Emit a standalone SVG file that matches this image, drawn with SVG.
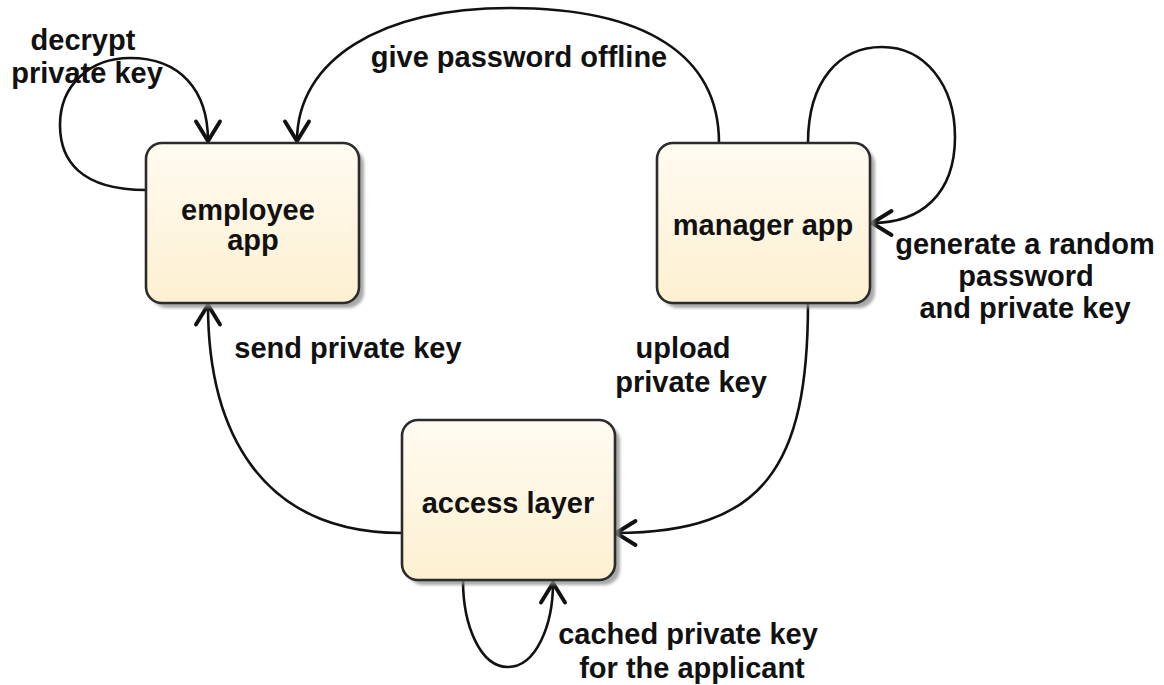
<svg xmlns="http://www.w3.org/2000/svg" width="1164" height="685" viewBox="0 0 1164 685">
  <defs>
    <linearGradient id="boxFill" x1="0" y1="0" x2="0" y2="1">
      <stop offset="0" stop-color="#FFFBF1"/>
      <stop offset="1" stop-color="#FDF0D1"/>
    </linearGradient>
    <filter id="soft" x="-10%" y="-10%" width="130%" height="130%">
      <feGaussianBlur stdDeviation="1.6"/>
    </filter>
    <marker id="open" markerUnits="userSpaceOnUse" markerWidth="30" markerHeight="30" viewBox="-16 -10 20 20" refX="0" refY="0" orient="auto">
      <path d="M -13 -8 L 0 0 L -13 8" fill="none" stroke="#111" stroke-width="2.6" stroke-linecap="round" stroke-linejoin="miter"/>
    </marker>
    <style>
      .shadow { fill: #8c8c8c; opacity: 0.75; filter: url(#soft); }
      .box { fill: url(#boxFill); stroke: #2b2b2b; stroke-width: 2.6; }
      .lbl { font-family: "Liberation Sans", Arial, Helvetica, sans-serif; font-weight: bold; font-size: 29px; fill: #111; text-anchor: middle; }
      .edge { fill: none; stroke: #111; stroke-width: 2.6; marker-end: url(#open); }
      .plain { fill: none; stroke: #111; stroke-width: 2.6; }
    </style>
  </defs>

  <rect width="1164" height="685" fill="#ffffff"/>

  <!-- connectors -->
  <g id="connectors">
    <!-- employee self loop: decrypt private key -->
    <path class="edge" d="M146,190 C80,190 60,160 60,125 C60,85 90,58 130,58 C180,58 208,90 208,141"/>
    <!-- manager to employee: give password offline -->
    <path class="edge" d="M719,143 C719,55 645,8 510,8 C380,8 297,60 297,141"/>
    <!-- manager self loop: generate password and key -->
    <path class="edge" d="M808,143 C808,80 840,47 882,47 C925,47 955,85 955,137 C955,195 920,223 872,223"/>
    <!-- manager to access layer: upload private key -->
    <path class="edge" d="M808,303 C808,465 765,533 616,533"/>
    <!-- access layer to employee: send private key -->
    <path class="edge" d="M402,533 C260,533 208,430 208,305"/>
    <!-- access layer self loop: cached key -->
    <path class="edge" d="M463,580 C463,625 480,667 508,667 C536,667 553,625 553,583"/>
  </g>

  <!-- edge labels -->
  <g id="edge-labels">
    <text class="lbl" x="83" y="50">decrypt</text>
    <text class="lbl" x="87" y="83">private key</text>
    <text class="lbl" x="519" y="67">give password offline</text>
    <text class="lbl" x="1025" y="254">generate a random</text>
    <text class="lbl" x="1026" y="286">password</text>
    <text class="lbl" x="1025" y="318">and private key</text>
    <text class="lbl" x="348" y="358">send private key</text>
    <text class="lbl" x="683" y="358">upload</text>
    <text class="lbl" x="691" y="392">private key</text>
    <text class="lbl" x="688" y="644">cached private key</text>
    <text class="lbl" x="692" y="678">for the applicant</text>
  </g>

  <!-- nodes -->
  <g id="employee-app">
    <rect class="shadow" x="151" y="148" width="213" height="160" rx="16"/>
    <rect class="box" x="146" y="143" width="213" height="160" rx="16"/>
    <text class="lbl" x="248" y="220">employee</text>
    <text class="lbl" x="253" y="250">app</text>
  </g>

  <g id="manager-app">
    <rect class="shadow" x="662" y="148" width="213" height="160" rx="16"/>
    <rect class="box" x="657" y="143" width="213" height="160" rx="16"/>
    <text class="lbl" x="763" y="235">manager app</text>
  </g>

  <g id="access-layer">
    <rect class="shadow" x="407" y="425" width="213" height="160" rx="16"/>
    <rect class="box" x="402" y="420" width="213" height="160" rx="16"/>
    <text class="lbl" x="508" y="513">access layer</text>
  </g>
</svg>
